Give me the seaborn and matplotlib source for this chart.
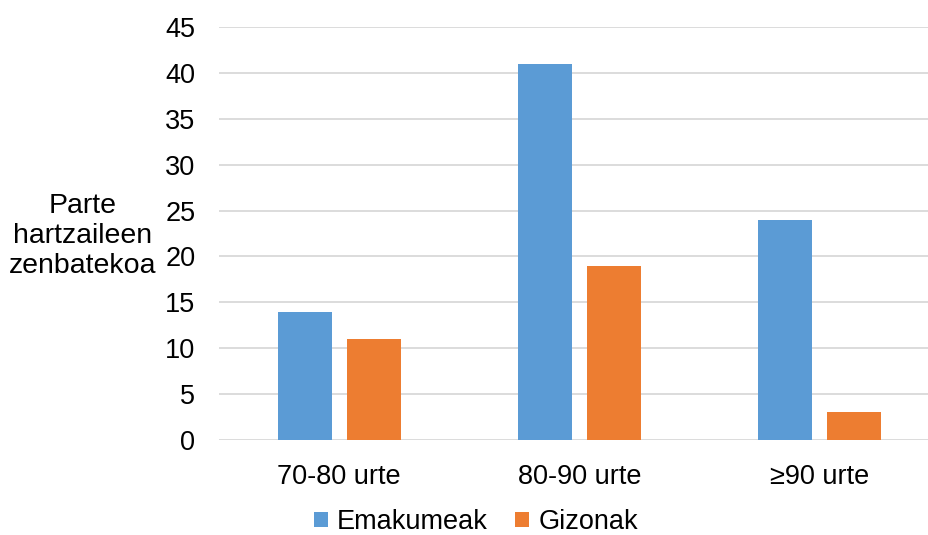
import matplotlib
matplotlib.use("Agg")
import matplotlib.pyplot as plt
import seaborn as sns
import pandas as pd
from matplotlib.patches import Patch

categories = ["70-80 urte", "80-90 urte", "≥90 urte"]
series_names = ["Emakumeak", "Gizonak"]
emakumeak = [14, 41, 24]
gizonak = [11, 19, 3]
y_ticks = [0, 5, 10, 15, 20, 25, 30, 35, 40, 45]
y_label = "Parte\nhartzaileen\nzenbatekoa"
colors = ["#5B9BD5", "#ED7D31"]

df = pd.DataFrame({
    "Adina": categories * 2,
    "Taldea": [series_names[0]] * 3 + [series_names[1]] * 3,
    "Zenbatekoa": emakumeak + gizonak,
})

sns.set_theme(style="white")
plt.rcParams["font.family"] = ["Liberation Sans", "DejaVu Sans"]
plt.rcParams["text.color"] = "black"
FS = 19.5

fig = plt.figure(figsize=(9.29, 5.35), dpi=100)
ax = fig.add_axes([219 / 929, 95 / 535, 721 / 929, 413 / 535])

sns.barplot(data=df, x="Adina", y="Zenbatekoa", hue="Taldea",
            palette=colors, width=0.575, gap=0.217, ax=ax,
            legend=False, saturation=1, errorbar=None, linewidth=0)

ax.set_ylim(0, 45)
ax.set_xlim(-0.5, 2.5)
ax.set_yticks(y_ticks)
ax.yaxis.grid(True, color="#D9D9D9", linewidth=1.3)
ax.set_axisbelow(True)
for s in ax.spines.values():
    s.set_visible(False)
ax.tick_params(axis="both", length=0, labelsize=FS, colors="#000000")
ax.tick_params(axis="y", pad=17)
ax.tick_params(axis="x", pad=17)
ax.set_xlabel("")
ax.set_ylabel("")

fig.text(83 / 929, 1 - 236 / 535, y_label, ha="center", va="center",
         fontsize=20.5, linespacing=1.22, color="black")

handles = [Patch(facecolor=c, edgecolor="none") for c in colors]
leg = fig.legend(handles, series_names, loc="center", bbox_to_anchor=(476 / 929, 1 - 522 / 535),
                 ncol=2, frameon=False, fontsize=FS, handlelength=0.5, handleheight=0.5,
                 handletextpad=0.35, columnspacing=1.0, borderpad=0, borderaxespad=0)
for t in leg.get_texts():
    t.set_color("black")

fig.savefig("out.png", dpi=100)
